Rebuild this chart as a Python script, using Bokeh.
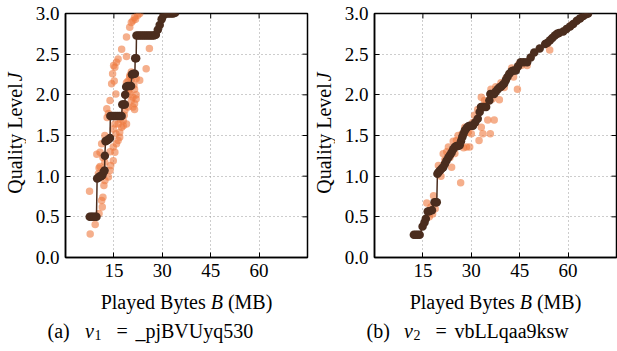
import math
from bokeh.plotting import figure
from bokeh.layouts import row, column
from bokeh.models import FixedTicker, Label, Range1d, PrintfTickFormatter
from bokeh.embed import file_html
from bokeh.resources import INLINE

x_ticks = [15, 30, 45, 60]
y_ticks = [0.0, 0.5, 1.0, 1.5, 2.0, 2.5, 3.0]
X_MAX = 75
Y_MAX = 3.0

# ---- v1 = _pjBVUyq530 ----
v1_dark_x = [7.5, 8.0, 8.5, 9.0, 9.6, 9.8, 10.2, 10.6, 11.0, 11.4, 11.8, 12.1, 12.2, 12.4, 12.8, 13.3,
             13.8, 13.9, 14.4, 15.0, 15.6, 16.2, 16.8, 17.4, 17.6, 18.0, 18.4, 18.5, 18.8, 19.3, 19.8,
             20.3, 20.6, 21.0, 21.5, 21.6, 21.9, 22.0, 22.6, 23.2, 23.8, 24.4, 25.0, 25.6, 26.2, 26.8,
             27.4, 28.0, 28.6, 29.2, 29.8, 30.4, 31.0, 31.6, 32.2, 32.8, 33.4, 34.0]
v1_dark_j = [0.50, 0.50, 0.50, 0.50, 0.50, 0.97, 0.98, 1.00, 1.00, 1.01, 1.05, 1.07, 1.25, 1.43, 1.44, 1.45,
             1.47, 1.74, 1.74, 1.74, 1.74, 1.74, 1.74, 1.74, 1.88, 1.88, 1.88, 2.00, 2.10, 2.11, 2.11,
             2.11, 2.25, 2.26, 2.26, 2.45, 2.45, 2.73, 2.73, 2.73, 2.73, 2.73, 2.73, 2.73, 2.73, 2.73,
             2.73, 2.74, 2.80, 2.86, 2.93, 2.98, 3.00, 3.00, 3.00, 3.00, 3.00, 3.01]
v1_orange_x = [7.65, 7.45, 9.2, 10.4, 11.2, 11.4, 11.6, 11.9, 12.2, 10.2, 9.7, 10.7, 10.4, 11.6, 11.2,
               12.2, 12.8, 13.3, 12.9, 13.8, 14.3, 14.6, 15.3, 14.9, 15.8, 16.3, 15.1, 15.6, 17.4, 18.9,
               19.9, 20.4, 21.4, 22.4, 20.9, 21.7, 23.0, 13.3, 13.8, 14.0, 14.8, 15.3, 14.8, 15.8, 16.3,
               15.6, 16.8, 17.4, 16.8, 17.9, 18.9, 17.9, 16.3, 18.4, 19.4, 20.4, 20.9, 21.4, 20.9, 19.9,
               19.4, 18.9, 19.9, 20.4, 19.4, 21.4, 21.9, 21.4, 21.9, 23.0, 25.0, 26.0, 18.9, 21.9, 10.7,
               12.2, 13.8, 15.3, 14.8, 20.0, 20.6, 21.2, 19.6, 18.2, 17.0]
v1_orange_j = [0.29, 0.815, 0.405, 0.54, 0.70, 0.62, 0.74, 0.885, 0.946, 1.03, 1.27, 1.295, 1.10, 1.23, 1.40,
               1.50, 1.83, 1.77, 1.72, 1.93, 2.135, 2.26, 2.34, 2.36, 2.40, 2.44, 2.17, 2.01, 2.56, 2.71,
               2.83, 2.89, 2.95, 2.98, 2.91, 2.93, 3.00, 0.99, 1.07, 1.13, 1.19, 1.295, 1.36, 1.40, 1.44,
               1.52, 1.54, 1.60, 1.48, 1.62, 1.64, 1.68, 1.64, 1.81, 1.85, 1.93, 1.85, 1.89, 1.97, 2.01,
               2.09, 2.15, 2.22, 2.28, 2.17, 2.07, 1.95, 1.82, 2.00, 2.18, 2.32, 2.57, 2.47, 2.20, 1.12,
               1.17, 1.30, 1.64, 1.58, 2.24, 2.20, 2.12, 2.05, 1.75, 1.70]

# ---- v2 = vbLLqaa9ksw ----
v2_dark_x = [12.2, 12.8, 13.4, 14.0, 14.9, 15.5, 15.9, 16.5, 17.0, 17.8, 18.6, 19.1, 19.3, 19.5, 19.9,
             20.3, 20.8, 21.3, 21.8, 22.3, 22.9, 23.4, 23.9, 24.4, 24.9, 25.4, 25.9, 26.4, 26.8, 27.2,
             27.6, 28.0, 28.5, 29.0, 29.5, 30.0, 30.5, 31.2, 32.0, 32.6, 33.0, 33.5, 34.0, 34.6, 35.6,
             35.9, 36.5, 37.1, 37.6, 38.2, 38.7, 39.2, 39.7, 40.2, 40.7, 41.2, 41.8, 42.5, 43.1, 43.8,
             44.5, 45.3, 46.3, 47.3, 48.4, 49.5, 51.2, 52.9, 53.6, 54.4, 55.1, 55.9, 56.6, 57.2, 58.5,
             59.5, 60.6, 61.6, 62.7, 63.7, 64.7, 65.5, 66.2]
v2_dark_j = [0.28, 0.28, 0.28, 0.28, 0.38, 0.43, 0.475, 0.565, 0.57, 0.58, 0.68, 0.68, 0.68, 1.03, 1.05,
             1.07, 1.09, 1.11, 1.15, 1.19, 1.23, 1.26, 1.29, 1.33, 1.36, 1.37, 1.37, 1.38, 1.43, 1.48,
             1.52, 1.56, 1.59, 1.61, 1.62, 1.62, 1.62, 1.66, 1.705, 1.79, 1.85, 1.85, 1.85, 1.85, 1.93,
             2.01, 2.01, 2.01, 2.04, 2.07, 2.09, 2.10, 2.12, 2.14, 2.18, 2.22, 2.26, 2.29, 2.30, 2.30,
             2.35, 2.40, 2.40, 2.40, 2.46, 2.52, 2.57, 2.625, 2.64, 2.67, 2.70, 2.73, 2.75, 2.76, 2.78,
             2.81, 2.84, 2.87, 2.91, 2.94, 2.97, 2.99, 3.00]
v2_orange_x = [16.2, 17.0, 18.0, 18.3, 17.5, 18.8, 19.8, 20.6, 21.3, 21.8, 22.4, 22.9, 23.4, 23.9, 24.4,
               24.9, 25.4, 25.9, 26.7, 27.2, 27.6, 28.0, 28.5, 29.0, 29.5, 30.0, 30.5, 31.0, 32.4, 32.0,
               33.1, 33.1, 33.6, 34.1, 34.6, 35.1, 35.9, 36.1, 36.5, 37.1, 37.6, 38.7, 39.2, 40.2, 40.7,
               41.7, 42.5, 43.1, 44.3, 44.8, 45.5, 47.3, 54.3, 53.5, 57.0, 61.0]
v2_orange_j = [0.67, 0.50, 0.535, 0.76, 0.62, 0.60, 1.13, 1.00, 1.275, 1.20, 1.30, 1.36, 1.23, 1.11, 1.43,
               1.28, 1.44, 1.50, 0.92, 1.52, 1.35, 1.60, 1.36, 1.54, 1.36, 1.52, 1.66, 1.75, 1.44, 1.82,
               1.60, 1.97, 1.52, 1.93, 1.90, 1.69, 1.52, 2.07, 1.95, 1.69, 2.10, 1.94, 2.15, 2.09, 2.20,
               2.26, 2.33, 2.22, 2.07, 2.38, 2.36, 2.36, 2.55, 2.63, 2.75, 2.86]

FONT = "Liberation Serif"
TICK_FS = 19
LAB_FS = 20
CAP_FS = 20
SUB_FS = 14
DARK = "#4b2d1e"
ORANGE = "#ee7a3f"

W_REG = {' ': 250, '(': 333, ')': 333, 'a': 444, 'b': 500, 'd': 500, 'e': 444, 'j': 278, 'k': 500,
         'l': 278, 'p': 500, 'q': 500, 's': 389, 't': 278, 'u': 500, 'v': 500, 'w': 722, 'y': 500,
         'i': 278, 'B': 667, 'L': 611, 'M': 889, 'P': 556, 'Q': 722, 'U': 722, 'V': 722, '_': 500,
         '=': 564}


def tw(s, size):
    return sum(W_REG.get(c, 500) for c in s) * size / 1000.0


# geometry (pixels)
YL_W = 26            # width of the y-label strip
BORDER_L = 39        # tick-label border of each plot
FW, FH = 242, 244    # frame size
TOP_B, BOT_B = 13, 27
RIGHT_B = [2, 1]
TOP_H = TOP_B + FH + BOT_B
TOTAL_W = 2 * (YL_W + BORDER_L + FW) + sum(RIGHT_B)
BOT_H = 351 - TOP_H


def text_fig(w, h):
    f = figure(width=w, height=h, x_range=Range1d(0, w), y_range=Range1d(0, h),
               output_backend="svg", toolbar_location=None,
               x_axis_location=None, y_axis_location=None, min_border=0)
    f.min_border_left = f.min_border_right = f.min_border_top = f.min_border_bottom = 0
    f.grid.visible = False
    f.outline_line_color = None
    f.background_fill_color = "white"
    f.border_fill_color = "white"
    return f


def lab(f, x, y, text, size, style="normal", angle=0.0, align="left", baseline="alphabetic"):
    f.add_layout(Label(x=x, y=y, text=text, angle=angle,
                       text_font=FONT, text_font_size=f"{size}px", text_font_style=style,
                       text_color="black", text_align=align, text_baseline=baseline))


def make_plot(dark_x, dark_j, or_x, or_j, mbr):
    p = figure(frame_width=FW, frame_height=FH, x_range=Range1d(0, X_MAX), y_range=Range1d(0, Y_MAX),
               output_backend="svg", toolbar_location=None,
               min_border_left=BORDER_L, min_border_right=mbr, min_border_top=TOP_B,
               min_border_bottom=BOT_B)
    p.background_fill_color = "white"
    p.border_fill_color = "white"
    p.outline_line_color = "black"
    p.outline_line_width = 1.5

    for ax in (p.xaxis, p.yaxis):
        ax.axis_line_width = 1.5
        ax.axis_line_color = "black"
        ax.major_tick_in = 5
        ax.major_tick_out = 0
        ax.major_tick_line_color = "black"
        ax.minor_tick_line_color = None
        ax.major_label_text_font = FONT
        ax.major_label_text_font_size = f"{TICK_FS}px"
        ax.major_label_text_color = "black"
        ax.major_label_standoff = 6
    p.xaxis.ticker = FixedTicker(ticks=x_ticks)
    p.yaxis.ticker = FixedTicker(ticks=y_ticks)
    p.yaxis.formatter = PrintfTickFormatter(format="%.1f")

    p.xgrid.ticker = FixedTicker(ticks=x_ticks)
    p.ygrid.ticker = FixedTicker(ticks=y_ticks)
    for g in (p.xgrid, p.ygrid):
        g.grid_line_color = "#9a9a9a"
        g.grid_line_dash = "1 3"
        g.grid_line_width = 1

    # inward ticks on the top and right spines
    p.ray(x=x_ticks, y=[Y_MAX] * len(x_ticks), length=5, length_units="screen",
          angle=-math.pi / 2, line_color="black", line_width=1)
    p.ray(x=[X_MAX] * len(y_ticks), y=y_ticks, length=5, length_units="screen",
          angle=math.pi, line_color="black", line_width=1)

    p.scatter(or_x, or_j, size=7.5, fill_color=ORANGE, fill_alpha=0.6, line_color=None)
    p.line(dark_x, dark_j, line_color=DARK, line_width=1.5)
    p.scatter(dark_x, dark_j, size=8.5, fill_color=DARK, line_color=None)
    return p


def make_ylab():
    f = text_fig(YL_W, TOP_H)
    s = "Quality Level"
    gap = 250 * LAB_FS / 1000.0 + 7
    ws = tw(s, LAB_FS)
    wj = 444 * LAB_FS / 1000.0
    total = ws + gap + wj
    yc = TOP_H - (TOP_B + FH / 2)
    y0 = yc - total / 2
    xm = 14
    lab(f, xm, y0 + ws / 2, s, LAB_FS, angle=math.pi / 2, align="center", baseline="middle")
    lab(f, xm, y0 + ws + gap + wj / 2, "J", LAB_FS, style="italic", angle=math.pi / 2,
        align="center", baseline="middle")
    return f


p1 = make_plot(v1_dark_x, v1_dark_j, v1_orange_x, v1_orange_j, RIGHT_B[0])
p2 = make_plot(v2_dark_x, v2_dark_j, v2_orange_x, v2_orange_j, RIGHT_B[1])
yl1 = make_ylab()
yl2 = make_ylab()

bot = text_fig(TOTAL_W, BOT_H)
frame_left = [YL_W + BORDER_L, 2 * (YL_W + BORDER_L) + FW + RIGHT_B[0]]
captions = [("a", "1", "_pjBVUyq530", -18), ("b", "2", "vbLLqaa9ksw", -8)]
XL_Y = 351 - 301      # baseline of the x-axis label, from the bottom of the strip
CAP_Y = 351 - 330     # baseline of the caption
sp = 250 * LAB_FS / 1000.0
for fl, (tag, sub, name, cshift) in zip(frame_left, captions):
    # x axis label, centred on the frame
    s1, s3 = "Played Bytes", "(MB)"
    wb = 611 * LAB_FS / 1000.0
    total = tw(s1, LAB_FS) + sp + wb + sp + tw(s3, LAB_FS)
    x0 = fl + FW / 2 - total / 2
    lab(bot, x0, XL_Y, s1, LAB_FS)
    x1 = x0 + tw(s1, LAB_FS) + sp
    lab(bot, x1, XL_Y, "B", LAB_FS, style="italic")
    lab(bot, x1 + wb + sp, XL_Y, s3, LAB_FS)
    # caption
    c0 = fl + cshift
    lab(bot, c0, CAP_Y, f"({tag})", CAP_FS)
    cv = c0 + 37.5
    lab(bot, cv, CAP_Y, "v", CAP_FS, style="italic")
    cs = cv + 444 * CAP_FS / 1000.0 + 0.5
    lab(bot, cs, CAP_Y - 4, sub, SUB_FS)
    lab(bot, cs + 22, CAP_Y, "=", CAP_FS)
    lab(bot, cs + 41, CAP_Y, name, CAP_FS)

layout = column(row(yl1, p1, yl2, p2), bot)
open("out.html", "w").write(file_html(layout, INLINE))
